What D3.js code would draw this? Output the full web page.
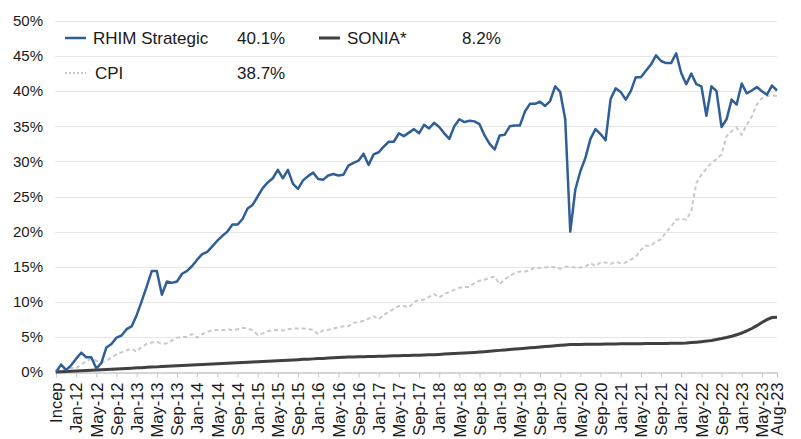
<!DOCTYPE html>
<html><head><meta charset="utf-8">
<script src="https://cdn.jsdelivr.net/npm/d3@7"></script>
<style>
html,body{margin:0;padding:0;background:#fff;}
svg{display:block;font-family:"Liberation Sans",Arial,sans-serif;}
</style></head>
<body><svg id="c" width="801" height="439"></svg>
<script>
// ---- data ----
const startMonth = new Date(2011, 8, 1);   // Sep-11 = inception
const endMonth = new Date(2023, 8, 1);     // exclusive -> last = Aug-23
const tickLabels = ["Incep","Jan-12","May-12","Sep-12","Jan-13","May-13","Sep-13","Jan-14","May-14","Sep-14",
  "Jan-15","May-15","Sep-15","Jan-16","May-16","Sep-16","Jan-17","May-17","Sep-17","Jan-18","May-18","Sep-18",
  "Jan-19","May-19","Sep-19","Jan-20","May-20","Sep-20","Jan-21","May-21","Sep-21","Jan-22","May-22","Sep-22",
  "Jan-23","May-23","Aug-23"];
const yTicks = [0,5,10,15,20,25,30,35,40,45,50];

const rhim = [0,1.05,0.3,0.95,1.9,2.75,2.1,2.1,0.5,1.3,3.5,4.0,4.9,5.2,6.1,6.5,8.1,10.1,12.2,14.4,
  14.4,11.0,12.9,12.7,12.9,14.0,14.4,15.1,16.0,16.8,17.1,17.9,18.7,19.4,20.0,21.0,21.0,21.8,23.3,23.8,
  25.0,26.2,27.0,27.6,28.8,27.6,28.8,26.8,26.1,27.3,27.9,28.4,27.5,27.4,28.0,28.2,28.0,28.1,29.4,29.8,
  30.1,31.1,29.5,31.0,31.3,32.1,32.8,32.8,34.0,33.6,34.1,34.6,34.0,35.2,34.7,35.5,34.9,34.0,33.2,35.0,
  36.0,35.6,35.8,35.7,35.3,33.7,32.5,31.7,33.7,33.8,35.0,35.1,35.1,37.1,38.2,38.2,38.5,37.9,38.6,40.7,
  39.9,36.0,20.0,26.0,28.6,30.5,33.2,34.6,33.9,33.0,38.9,40.4,39.9,38.8,40.0,42.0,42.0,42.9,43.8,45.1,
  44.3,44.0,44.0,45.4,42.6,41.0,42.5,41.0,40.7,36.5,40.7,40.0,34.9,36.0,38.8,38.1,41.1,39.7,40.1,40.6,
  40.0,39.5,40.8,40.1];

const cpi = [0,0.2,0.4,0.6,0.5,1.1,1.5,1.9,1.6,1.4,1.6,2.1,2.5,2.8,3.1,3.3,2.9,3.6,4.0,4.2,
  4.3,4.0,4.1,4.5,4.9,5.0,5.0,5.4,4.9,5.4,5.7,5.95,6.0,5.95,6.1,5.95,6.1,6.3,6.2,5.95,
  5.3,5.5,5.8,5.95,6.0,5.9,6.1,6.2,6.2,6.2,6.1,6.0,5.4,5.95,6.0,6.2,6.35,6.5,6.5,7.0,
  7.1,7.3,7.6,7.95,7.5,8.1,8.6,9.0,9.4,9.4,9.2,9.95,10.3,10.3,10.7,11.1,10.6,11.1,11.4,11.7,
  12.0,12.1,12.1,12.7,13.0,13.15,13.4,13.6,12.5,13.2,13.7,14.1,14.3,14.3,14.5,14.9,14.8,14.9,15.0,14.9,
  14.7,15.0,15.0,14.9,14.9,15.0,15.5,15.1,15.6,15.6,15.4,15.7,15.5,15.6,16.0,16.4,17.4,18.0,18.0,18.6,
  18.9,19.9,20.7,21.7,21.8,21.7,22.9,26.9,28.1,29.0,29.8,30.3,31.0,33.6,34.3,34.8,33.8,35.2,36.4,38.1,
  39.0,39.3,39.4,39.3];

const sonia = [0.00,0.04,0.07,0.11,0.15,0.18,0.22,0.26,0.29,0.33,0.37,0.40,0.44,0.48,0.51,0.55,0.59,0.62,0.66,0.70,
  0.73,0.77,0.81,0.84,0.88,0.92,0.95,0.99,1.03,1.06,1.10,1.14,1.17,1.21,1.25,1.28,1.32,1.36,1.39,1.43,
  1.47,1.50,1.54,1.58,1.61,1.65,1.69,1.72,1.76,1.80,1.83,1.87,1.91,1.94,1.98,2.02,2.05,2.09,2.12,2.14,
  2.16,2.18,2.20,2.22,2.24,2.26,2.28,2.30,2.32,2.34,2.36,2.38,2.40,2.42,2.44,2.47,2.51,2.55,2.59,2.63,
  2.67,2.71,2.75,2.79,2.84,2.90,2.96,3.02,3.08,3.14,3.20,3.26,3.32,3.38,3.44,3.50,3.56,3.62,3.68,3.74,
  3.80,3.86,3.90,3.92,3.93,3.94,3.95,3.96,3.97,3.98,3.99,4.00,4.01,4.02,4.03,4.04,4.04,4.05,4.05,4.06,
  4.06,4.07,4.08,4.09,4.11,4.14,4.19,4.25,4.32,4.40,4.50,4.62,4.76,4.92,5.10,5.30,5.55,5.85,6.20,6.60,
  7.05,7.45,7.75,7.80];

const legendNames = ["RHIM Strategic","SONIA*","CPI"];
const legendValues = ["40.1%","8.2%","38.7%"];

// ---- chart ----
const svg = d3.select("#c");
const months = d3.timeMonth.range(startMonth, endMonth);
const fmt = d3.timeFormat("%b-%y");
const x = d3.scalePoint().domain(months.map(d => +d)).range([56, 777]);
const y = d3.scaleLinear().domain([0, 50]).range([372, 21]);

const left = 55, right = 777;

// gridlines
svg.append("g").selectAll("line").data(yTicks.filter(d => d > 0)).join("line")
  .attr("x1", left).attr("x2", right)
  .attr("y1", d => Math.round(y(d)) + 0.5).attr("y2", d => Math.round(y(d)) + 0.5)
  .attr("stroke", "#e6e6e6").attr("stroke-width", 1);

// y labels
svg.append("g").selectAll("text").data(yTicks).join("text")
  .attr("x", 43).attr("y", d => y(d)).attr("dy", "0.35em")
  .attr("text-anchor", "end").attr("font-size", 15).attr("fill", "#1a1a1a")
  .text(d => d + "%");

// x axis
const tickDates = tickLabels.map(l => l === "Incep" ? startMonth : d3.timeParse("%b-%y")(l));
const xAxis = d3.axisBottom(x).tickValues(tickDates.map(d => +d)).tickSize(5).tickFormat((d, i) => tickLabels[i]);
const gx = svg.append("g").attr("transform", "translate(0,372.5)").call(xAxis);
gx.select(".domain").attr("d", `M${left},0.5H${right}`).attr("stroke", "#c8c8c8").attr("stroke-width", 1.5);
gx.selectAll(".tick line").attr("stroke", "#c8c8c8").attr("y1", 0);
gx.selectAll(".tick text")
  .attr("font-size", 16.5).attr("font-family", '"Liberation Sans",Arial,sans-serif').attr("fill", "#1a1a1a")
  .attr("transform", "rotate(-90)").attr("text-anchor", "end")
  .attr("x", -10).attr("y", 0).attr("dy", "0.35em");

// lines
const line = arr => d3.line().x((d, i) => x(+months[i])).y(d => y(d))(arr);
svg.append("path").attr("d", line(cpi)).attr("fill", "none")
  .attr("stroke", "#c9c9c9").attr("stroke-width", 2).attr("stroke-dasharray", "4,3");
svg.append("path").attr("d", line(sonia)).attr("fill", "none")
  .attr("stroke", "#404040").attr("stroke-width", 3);
svg.append("path").attr("d", line(rhim)).attr("fill", "none")
  .attr("stroke", "#2f5f96").attr("stroke-width", 2.5).attr("stroke-linejoin", "round");

// legend
const leg = svg.append("g").attr("font-size", 17).attr("fill", "#1a1a1a");
const legItems = [
  {x: 65, y: 38, color: "#2f5f96", dash: null, w: 2.5, name: legendNames[0], val: legendValues[0], vx: 237},
  {x: 319, y: 38, color: "#404040", dash: null, w: 3, name: legendNames[1], val: legendValues[1], vx: 462},
  {x: 65, y: 73, color: "#c9c9c9", dash: "2,2", w: 2, name: legendNames[2], val: legendValues[2], vx: 237}
];
legItems.forEach(it => {
  leg.append("line").attr("x1", it.x).attr("x2", it.x + 21).attr("y1", it.y).attr("y2", it.y)
    .attr("stroke", it.color).attr("stroke-width", it.w).attr("stroke-dasharray", it.dash);
  leg.append("text").attr("x", it.name === "CPI" ? it.x + 30 : it.x + 28).attr("y", it.y).attr("dy", "0.35em").text(it.name);
  leg.append("text").attr("x", it.vx).attr("y", it.y).attr("dy", "0.35em").text(it.val);
});
</script></body></html>
